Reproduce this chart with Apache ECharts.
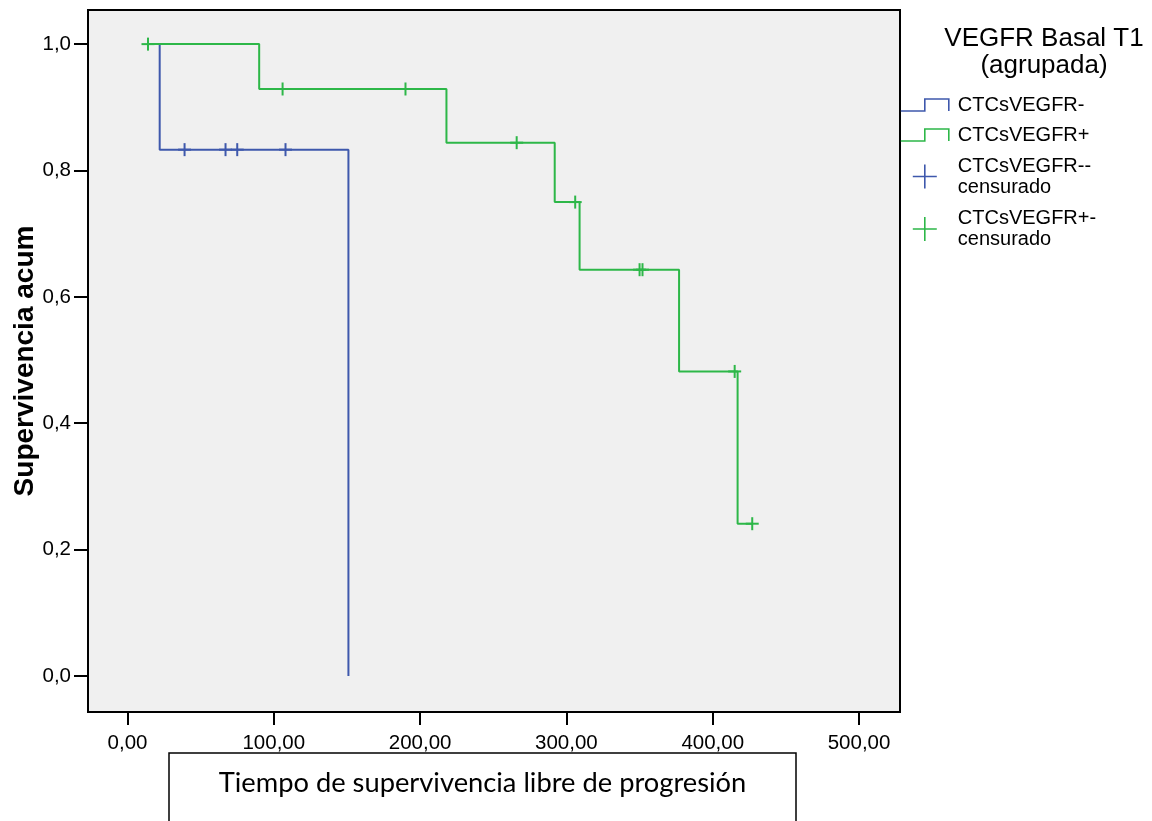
<!DOCTYPE html>
<html>
<head>
<meta charset="utf-8">
<title>Supervivencia libre de progresión</title>
<script src="https://cdn.jsdelivr.net/npm/echarts@6/dist/echarts.min.js"></script>
<style>
  html, body { margin: 0; padding: 0; background: #ffffff; }
  #chart { width: 1152px; height: 821px; }
</style>
</head>
<body>
<div id="chart"></div>
<script>
// Kaplan-Meier estimates by group
const negName = 'CTCsVEGFR-';
const posName = 'CTCsVEGFR+';
const negCensName = 'CTCsVEGFR--\ncensurado';
const posCensName = 'CTCsVEGFR+-\ncensurado';

// CTCsVEGFR-
const negStart = 22;
const negEventTimes = [22, 151];
const negSurvival = [0.833, 0.0];
const negCensorTimes = [39, 67, 75, 108];

// CTCsVEGFR+
const posStart = 14;
const posEventTimes = [90, 218, 292, 309, 377, 417];
const posSurvival = [0.929, 0.844, 0.750, 0.643, 0.482, 0.241];
const posCensorTimes = [14, 106, 190, 266, 306, 350, 352, 415, 427];

const xTicks = [0, 100, 200, 300, 400, 500];
const yTicks = [0, 0.2, 0.4, 0.6, 0.8, 1.0];

const blue = '#3E58AC';
const green = '#2DB748';

// survival value of the step function at time t
function survivalAt(eventTimes, survival, t) {
  let s = 1;
  for (let i = 0; i < eventTimes.length; i++) {
    if (eventTimes[i] <= t) s = survival[i];
  }
  return s;
}

// points for a step line that drops at each event time
function stepPoints(start, eventTimes, survival, censorTimes) {
  const pts = [[start, 1]];
  eventTimes.forEach((t, i) => pts.push([t, survival[i]]));
  const lastCensor = Math.max.apply(null, censorTimes);
  const lastEvent = eventTimes[eventTimes.length - 1];
  if (lastCensor > lastEvent) pts.push([lastCensor, survival[survival.length - 1]]);
  return pts;
}

function censorPoints(eventTimes, survival, censorTimes) {
  return censorTimes.map(t => [t, survivalAt(eventTimes, survival, t)]);
}

function crossRenderer(color) {
  return function (params, api) {
    const p = api.coord([api.value(0), api.value(1)]);
    const h = 6.5;
    return {
      type: 'group',
      children: [
        { type: 'line', shape: { x1: p[0], y1: p[1] - h, x2: p[0], y2: p[1] + h },
          style: { stroke: color, lineWidth: 2 } },
        { type: 'line', shape: { x1: p[0] - h, y1: p[1], x2: p[0] + h, y2: p[1] },
          style: { stroke: color, lineWidth: 2 } }
      ]
    };
  };
}

const stepIcon = 'path://M0,12 L24,12 L24,0 L48,0 L48,12';
const crossIcon = 'path://M12,0 L12,24 M0,12 L24,12';

const legendText = { fontFamily: 'Liberation Sans', fontSize: 20, color: '#000', lineHeight: 21 };

function legendFor(name, icon, color, w, h, left, top, padding, lw) {
  return {
    selectedMode: false,
    orient: 'vertical',
    left: left,
    top: top,
    padding: 0,
    itemWidth: w,
    itemHeight: h,
    textStyle: Object.assign({ padding: padding }, legendText),
    data: [{
      name: name,
      icon: icon,
      itemStyle: { color: 'transparent', borderColor: color, borderWidth: lw }
    }]
  };
}

const chart = echarts.init(document.getElementById('chart'), null, { renderer: 'canvas' });

chart.setOption({
  animation: false,
  backgroundColor: '#ffffff',
  grid: {
    left: 88, right: 252, top: 10, bottom: 109,
    outerBoundsMode: 'none',
    containLabel: false,
    show: true,
    backgroundColor: '#F0F0F0',
    borderColor: '#000000',
    borderWidth: 2
  },
  legend: [
    legendFor(negName, stepIcon, blue, 48, 12, 900, 90.5, [8, 0, 0, 4], 1.6),
    legendFor(posName, stepIcon, green, 48, 12, 900, 122.5, [4, 0, 0, 4], 1.6),
    legendFor(negCensName, crossIcon, blue, 24, 24, 912, 153, [5, 0, 0, 16], 1.6),
    legendFor(posCensName, crossIcon, green, 24, 24, 912, 204.5, [7, 0, 0, 16], 1.6)
  ],
  xAxis: {
    type: 'value',
    min: -27,
    max: 528,
    axisLine: { show: false, onZero: false },
    splitLine: { show: false },
    axisTick: {
      show: true, length: 13, customValues: xTicks,
      lineStyle: { color: '#000', width: 2 }
    },
    axisLabel: {
      customValues: xTicks,
      margin: 21,
      fontFamily: 'Liberation Sans',
      fontSize: 20.5,
      color: '#000',
      formatter: v => v.toFixed(2).replace('.', ',')
    }
  },
  yAxis: {
    type: 'value',
    min: -0.057,
    max: 1.054,
    name: 'Supervivencia acum',
    nameLocation: 'middle',
    nameGap: 49,
    nameMoveOverlap: false,
    nameTextStyle: { fontFamily: 'Liberation Sans', fontWeight: 'bold', fontSize: 28, color: '#000' },
    axisLine: { show: false, onZero: false },
    splitLine: { show: false },
    axisTick: {
      show: true, length: 14, customValues: yTicks,
      lineStyle: { color: '#000', width: 2 }
    },
    axisLabel: {
      customValues: yTicks,
      margin: 17,
      fontFamily: 'Liberation Sans',
      fontSize: 20.5,
      color: '#000',
      formatter: v => v.toFixed(1).replace('.', ',')
    }
  },
  graphic: [
    {
      type: 'text',
      style: {
        x: 1044, y: 25,
        text: 'VEGFR Basal T1\n(agrupada)',
        align: 'center',
        verticalAlign: 'top',
        fontFamily: 'Liberation Sans',
        fontSize: 26,
        lineHeight: 27,
        fill: '#000'
      }
    },
    {
      type: 'rect',
      shape: { x: 169, y: 753, width: 627, height: 90 },
      style: { fill: '#ffffff', stroke: '#000000', lineWidth: 1.5 }
    },
    {
      type: 'text',
      style: {
        x: 482.5, y: 783.5,
        text: 'Tiempo de supervivencia libre de progresión',
        align: 'center',
        verticalAlign: 'middle',
        fontFamily: 'Lato',
        fontSize: 27.3,
        fill: '#000'
      }
    }
  ],
  series: [
    {
      name: negName,
      type: 'line',
      step: 'end',
      showSymbol: false,
      data: stepPoints(negStart, negEventTimes, negSurvival, negCensorTimes),
      lineStyle: { color: blue, width: 2 },
      itemStyle: { color: blue }
    },
    {
      name: posName,
      type: 'line',
      step: 'end',
      showSymbol: false,
      data: stepPoints(posStart, posEventTimes, posSurvival, posCensorTimes),
      lineStyle: { color: green, width: 2 },
      itemStyle: { color: green }
    },
    {
      name: negCensName,
      type: 'custom',
      renderItem: crossRenderer(blue),
      itemStyle: { color: blue },
      data: censorPoints(negEventTimes, negSurvival, negCensorTimes)
    },
    {
      name: posCensName,
      type: 'custom',
      renderItem: crossRenderer(green),
      itemStyle: { color: green },
      data: censorPoints(posEventTimes, posSurvival, posCensorTimes)
    }
  ]
});
</script>
</body>
</html>
